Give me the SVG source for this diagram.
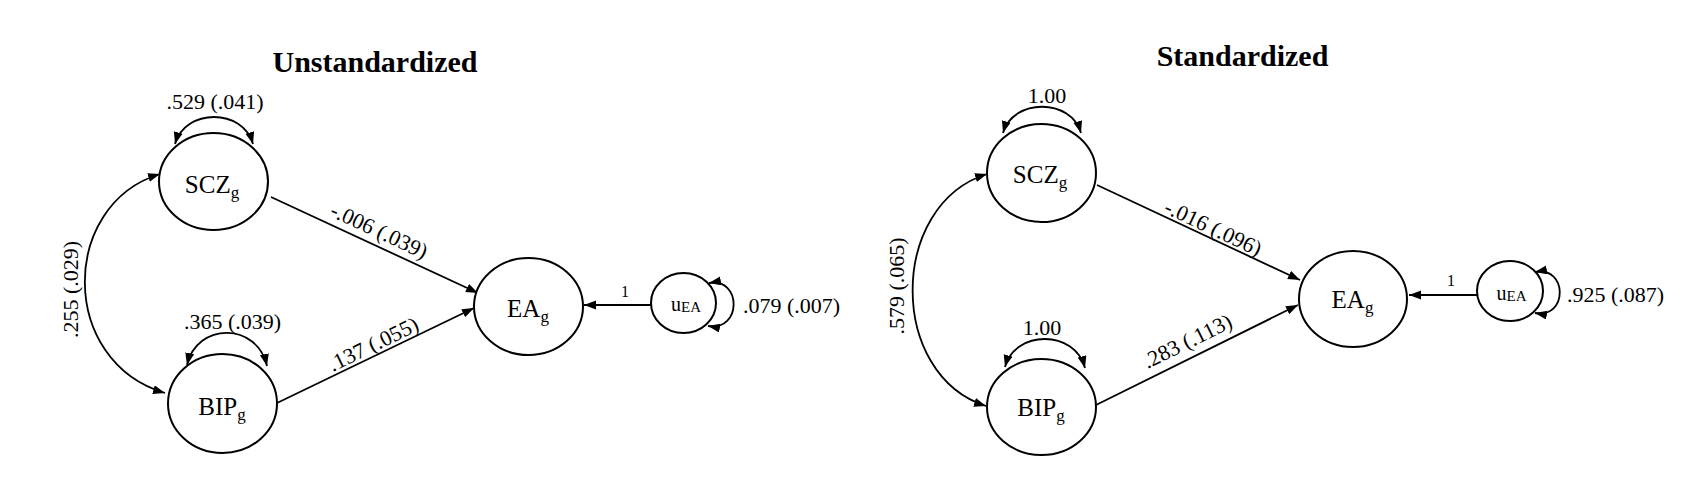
<svg xmlns="http://www.w3.org/2000/svg" width="1700" height="492" viewBox="0 0 1700 492">
<style>
text{font-family:"Liberation Serif","Times New Roman",serif;fill:#000}
.title{font-size:30px;font-weight:bold;text-anchor:middle}
.node{fill:#fff;stroke:#000;stroke-width:2}
.nl{font-size:25px;text-anchor:middle}
.sub{font-size:17px}
.el{font-size:22px}
.mid{text-anchor:middle}
.one{font-size:16px;text-anchor:middle}
.edge{fill:none;stroke:#000;stroke-width:1.8}
</style>
<defs>
<marker id="ah" markerUnits="userSpaceOnUse" markerWidth="13" markerHeight="10" refX="12" refY="4.5" orient="auto-start-reverse">
<path d="M0,0 L12,4.5 L0,9 z" fill="#000"/>
</marker>
</defs>
<rect width="1700" height="492" fill="#fff"/>
<text class="title" x="375" y="72">Unstandardized</text>
<text class="title" x="1242.5" y="66">Standardized</text>

<g id="connectors">
<path class="edge" d="M175,144 C185,108 243,108 253,144" marker-start="url(#ah)" marker-end="url(#ah)"/>
<path class="edge" d="M187,365 C197,322 257,322 267,366" marker-start="url(#ah)" marker-end="url(#ah)"/>
<path class="edge" d="M165,393 C59,362 59,205 160,174" marker-start="url(#ah)" marker-end="url(#ah)"/>
<path class="edge" d="M271,197 L478,293" marker-end="url(#ah)"/>
<path class="edge" d="M277,403 L474,308" marker-end="url(#ah)"/>
<path class="edge" d="M651,305 L584,305" marker-end="url(#ah)"/>
<path class="edge" d="M709,283 C742,277 742,332 708,326" marker-start="url(#ah)" marker-end="url(#ah)"/>
<path class="edge" d="M1003,133 C1013,98 1071,98 1081,133" marker-start="url(#ah)" marker-end="url(#ah)"/>
<path class="edge" d="M1005,367 C1015,329.5 1075,329.5 1085,368" marker-start="url(#ah)" marker-end="url(#ah)"/>
<path class="edge" d="M986,406 C888,375 888,205 987,174" marker-start="url(#ah)" marker-end="url(#ah)"/>
<path class="edge" d="M1097,185 L1300,280" marker-end="url(#ah)"/>
<path class="edge" d="M1096,405 L1298,305" marker-end="url(#ah)"/>
<path class="edge" d="M1477,295 L1409,295" marker-end="url(#ah)"/>
<path class="edge" d="M1535,272 C1568,266 1568,319 1535,313" marker-start="url(#ah)" marker-end="url(#ah)"/>

<text class="el mid" x="215" y="109">.529 (.041)</text>
<text class="el mid" x="232.5" y="329">.365 (.039)</text>
<text class="el mid" transform="translate(379,231) rotate(24.9)" x="0" y="7">-.006 (.039)</text>
<text class="el mid" transform="translate(373.5,344.5) rotate(-25.9)" x="0" y="7">.137 (.055)</text>
<text class="el mid" transform="translate(71,289.5) rotate(-90)" x="0" y="7">.255 (.029)</text>
<text class="one" x="625" y="297">1</text>
<text class="el" x="743" y="312.7">.079 (.007)</text>

<text class="el mid" x="1047" y="103">1.00</text>
<text class="el mid" x="1042" y="335">1.00</text>
<text class="el mid" transform="translate(1213,228) rotate(25.1)" x="0" y="7">-.016 (.096)</text>
<text class="el mid" transform="translate(1187.5,341.5) rotate(-26.3)" x="0" y="7">.283 (.113)</text>
<text class="el mid" transform="translate(896.5,286) rotate(-90)" x="0" y="7">.579 (.065)</text>
<text class="one" x="1451" y="286">1</text>
<text class="el" x="1567" y="302">.925 (.087)</text>
</g>

<g id="scz-u">
<ellipse class="node" cx="213.5" cy="181.5" rx="54.5" ry="48.5"/>
<text class="nl" x="212" y="193">SCZ<tspan class="sub" dy="5">g</tspan></text>
</g>
<g id="bip-u">
<ellipse class="node" cx="222.5" cy="403.5" rx="54.5" ry="49.5"/>
<text class="nl" x="222" y="415">BIP<tspan class="sub" dy="5">g</tspan></text>
</g>
<g id="ea-u">
<ellipse class="node" cx="528.5" cy="306.5" rx="54.5" ry="48.5"/>
<text class="nl" x="528" y="317">EA<tspan class="sub" dy="5">g</tspan></text>
</g>
<g id="uea-u">
<ellipse class="node" cx="683.5" cy="303" rx="32.5" ry="30"/>
<text x="686" y="310.7" style="font-size:20px;text-anchor:middle">u<tspan style="font-size:15px" dy="1">EA</tspan></text>
</g>

<g id="scz-s">
<ellipse class="node" cx="1041.5" cy="173" rx="54.5" ry="49"/>
<text class="nl" x="1040" y="183">SCZ<tspan class="sub" dy="5">g</tspan></text>
</g>
<g id="bip-s">
<ellipse class="node" cx="1041.5" cy="407" rx="54.5" ry="48"/>
<text class="nl" x="1041" y="416">BIP<tspan class="sub" dy="5">g</tspan></text>
</g>
<g id="ea-s">
<ellipse class="node" cx="1353" cy="299" rx="54" ry="48"/>
<text class="nl" x="1352.5" y="308">EA<tspan class="sub" dy="5">g</tspan></text>
</g>
<g id="uea-s">
<ellipse class="node" cx="1510" cy="291" rx="33" ry="30"/>
<text x="1511.5" y="300" style="font-size:20px;text-anchor:middle">u<tspan style="font-size:15px" dy="1">EA</tspan></text>
</g>
</svg>
